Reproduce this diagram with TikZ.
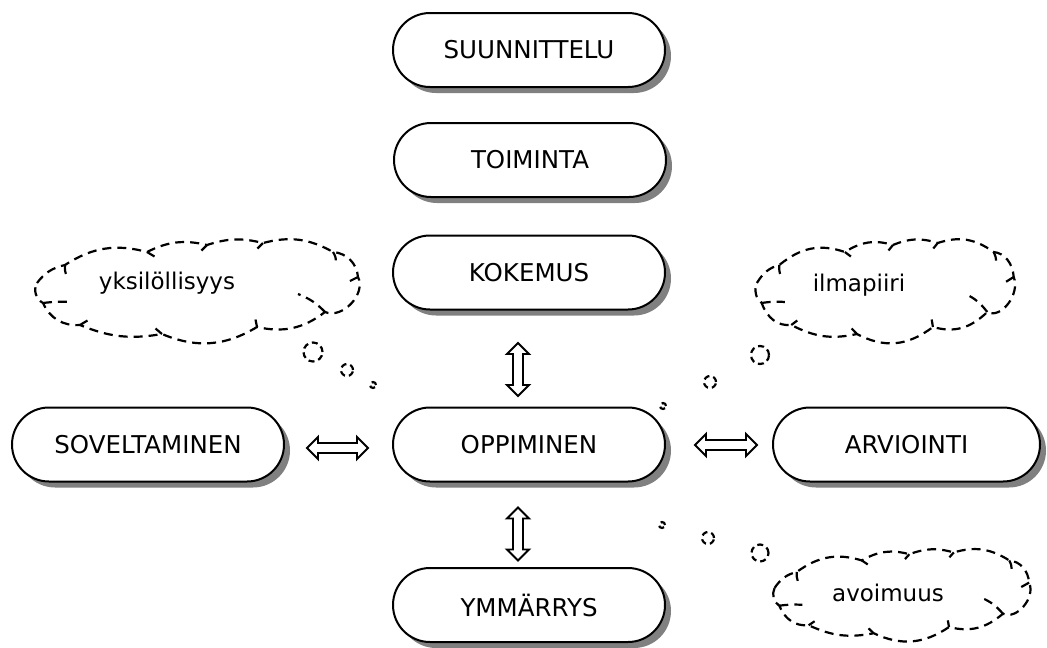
\documentclass[tikz,border=0pt]{standalone}
\usepackage{fontspec}
\setmainfont{DejaVu Sans}
\usetikzlibrary{shapes.misc,shadows}
\tikzset{
  pics/dbl/.style={code={
    \draw[blockarrow] (-#1,0) -- ({-#1+11},-11) -- ({-#1+11},-5) -- ({#1-11},-5)
      -- ({#1-11},-11) -- (#1,0) -- ({#1-11},11) -- ({#1-11},5)
      -- ({-#1+11},5) -- ({-#1+11},11) -- cycle;}},
  pics/wcloud/.style={code={
    \draw[cl] (-164.5,-8.5) to[bend left=20] (-136.5,-26.5)
      to[bend left=24] (-54.5,-39.5) to[bend left=20] (5.5,-46.5)
      to[bend left=16] (61.5,-48.5) to[bend left=22] (131.5,-39.5)
      to[bend left=40] (156.5,-14.5) to[bend left=70] (123.5,20.5)
      to[bend left=25] (55.5,35.5) to[bend left=27] (-39.5,42.5)
      to[bend left=16] (-121.5,33.5) to[bend left=35] (-158.5,11.5)
      to[bend left=45] (-164.5,-8.5);
    \draw[cl] (-136.5,-26.5) to[bend right=15] (-134.5,-15);
    \draw[cl] (-54.5,-39.5) -- (-47,-35);
    \draw[cl] (5.5,-46.5) -- (0,-41);
    \draw[cl] (61.5,-48.5) -- (56,-43);
    \draw[cl] (131.5,-39.5) to[bend left=15] (134.5,-30);
    \draw[cl] (156.5,-14.5) -- (146.5,-9.5);
    \draw[cl] (123.5,20.5) to[bend right=12] (96.5,2.5);
    \draw[cl] (55.5,35.5) -- (54,28);
    \draw[cl] (-39.5,42.5) -- (-46,37);
    \draw[cl] (-121.5,33.5) -- (-114,29);
    \draw[cl] (-158.5,11.5) to[bend left=5] (-129.5,10.5);
  }}
}
\begin{document}
\begin{tikzpicture}[x=1pt,y=-1pt,
  pill/.style={rounded rectangle, draw, line width=2pt, fill=white,
    minimum width=272pt, minimum height=74pt, inner sep=0pt,
    font=\fontsize{24.5}{29}\selectfont,
    drop shadow={shadow xshift=6pt, shadow yshift=-6pt, fill=black!50, opacity=1}},
  cl/.style={dash pattern=on 9pt off 6pt, line width=2.2pt},
  bubble/.style={circle, draw, dash pattern=on 6pt off 4pt, line width=2.2pt, inner sep=0pt},
  word/.style={font=\fontsize{23}{27}\selectfont, inner sep=0pt},
  blockarrow/.style={draw, line width=1.9pt, fill=white, line join=miter}
]
\useasboundingbox (0,0) rectangle (1047,648);

\node[pill] (suu) at (529,50) {SUUNNITTELU};
\node[pill] (toi) at (530,160) {TOIMINTA};
\node[pill] (kok) at (529,272.5) {KOKEMUS};
\node[pill] (opp) at (529,444.5) {OPPIMINEN};
\node[pill] (ymm) at (529,605) {YMMÄRRYS};
\node[pill] (sov) at (148,444.5) {SOVELTAMINEN};
\node[pill, minimum width=267pt] (arv) at (906.5,444.5) {ARVIOINTI};

\pic (a1) at (337.5,448) {dbl=30.5};
\pic (a2) at (726,445) {dbl=31};
\pic[rotate=90] (a3) at (518,369.5) {dbl=26.5};
\pic[rotate=90] (a4) at (518,534) {dbl=26.5};

\pic (c1) at (201.5,291.5) {wcloud};
\node[word] (t1) at (167,283) {yksilöllisyys};
\pic[xscale=0.8] (c2) at (888.5,291.5) {wcloud};
\node[word] (t2) at (859,285) {ilmapiiri};
\pic[xscale=0.793, yscale=0.888] (c3) at (905,595.5) {wcloud};
\node[word] (t3) at (888,593) {avoimuus};

\node[bubble, minimum size=19pt] (b1a) at (313,352) {};
\node[bubble, minimum size=12pt] (b1b) at (347,370) {};
\node[bubble, minimum size=6pt] (b1c) at (373,385) {};
\node[bubble, minimum size=18pt] (b2a) at (760,355) {};
\node[bubble, minimum size=12pt] (b2b) at (710,382) {};
\node[bubble, minimum size=6pt] (b2c) at (663,406) {};
\node[bubble, minimum size=17pt] (b3a) at (760,553) {};
\node[bubble, minimum size=12pt] (b3b) at (708,538) {};
\node[bubble, minimum size=6pt] (b3c) at (662,525) {};
\end{tikzpicture}
\end{document}
